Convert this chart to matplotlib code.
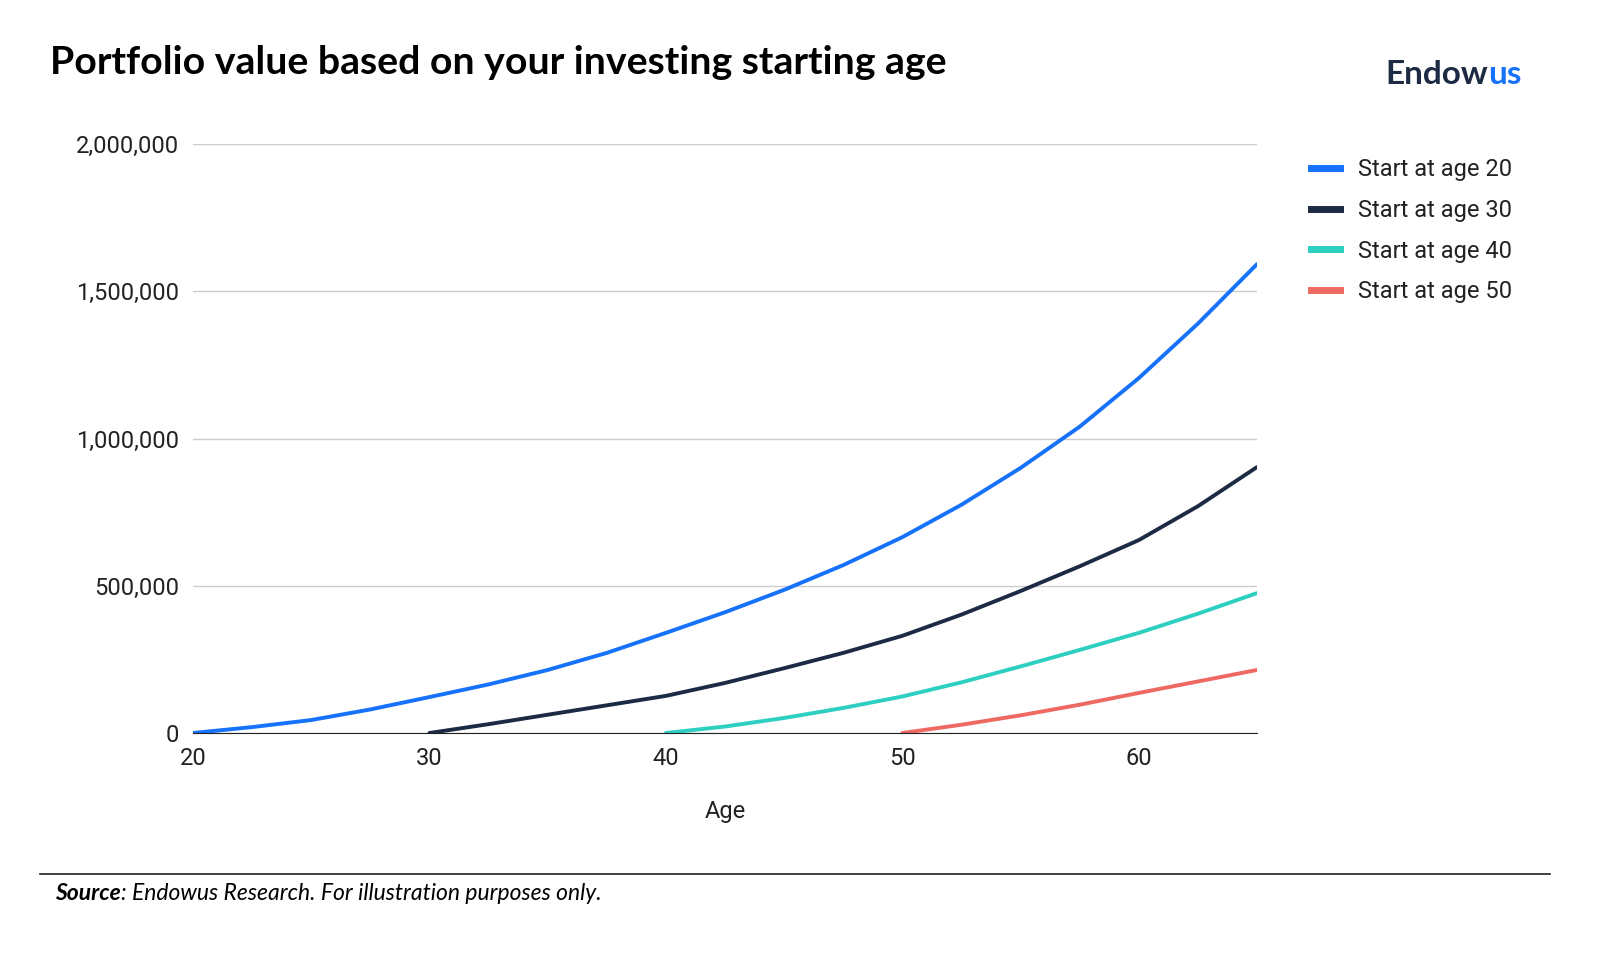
import matplotlib
matplotlib.use("Agg")
import matplotlib.pyplot as plt
from matplotlib.lines import Line2D

ages20 = [20, 22.5, 25, 27.5, 30, 32.5, 35, 37.5, 40, 42.5, 45, 47.5, 50, 52.5, 55, 57.5, 60, 62.5, 65]
vals20 = [0, 20000, 44000, 80000, 122000, 165000, 214000, 272000, 340000, 410000, 486000, 570000, 665000, 775000, 900000, 1040000, 1205000, 1390000, 1592000]
ages30 = [30, 32.5, 35, 37.5, 40, 42.5, 45, 47.5, 50, 52.5, 55, 57.5, 60, 62.5, 65]
vals30 = [0, 30000, 62000, 94000, 126000, 170000, 220000, 272000, 330000, 402000, 482000, 566000, 655000, 770000, 903000]
ages40 = [40, 42.5, 45, 47.5, 50, 52.5, 55, 57.5, 60, 62.5, 65]
vals40 = [0, 22000, 51000, 85000, 124000, 172000, 226000, 282000, 340000, 405000, 475000]
ages50 = [50, 52.5, 55, 57.5, 60, 62.5, 65]
vals50 = [0, 28000, 60000, 96000, 136000, 175000, 214000]
labels = ["Start at age 20", "Start at age 30", "Start at age 40", "Start at age 50"]
colors = ["#1672fa", "#1d2a44", "#2dcfc1", "#ee6961"]

plt.rcParams["font.family"] = "Roboto"
fig = plt.figure(figsize=(16, 9.56), dpi=100)
ax = fig.add_axes([193/1600, 1-733/956, (1257-193)/1600, (733-144)/956])
for a, v, c in zip([ages20, ages30, ages40, ages50], [vals20, vals30, vals40, vals50], colors):
    ax.plot(a, v, color=c, lw=2.8, solid_capstyle="round", solid_joinstyle="round")
ax.set_xlim(20, 65)
ax.set_ylim(0, 2000000)
ax.set_xticks([20, 30, 40, 50, 60])
ax.set_yticks([0, 500000, 1000000, 1500000, 2000000])
ax.set_yticklabels([f"{v:,}" for v in [0, 500000, 1000000, 1500000, 2000000]])
ax.grid(axis="y", color="#cccccc", lw=1)
ax.set_axisbelow(True)
for s in ["top", "right", "left"]:
    ax.spines[s].set_visible(False)
ax.spines["bottom"].set_color("#222222")
ax.tick_params(length=0, labelsize=17, colors="#222222", pad=10)
ax.set_xlabel("Age", fontsize=17, labelpad=22, color="#222222")
handles = [Line2D([], [], color=c, lw=5) for c in colors]
fig.legend(handles, labels, loc="upper left", bbox_to_anchor=(1290/1600, 1-137/956),
           frameon=False, fontsize=17, handlelength=1.2, labelspacing=0.75, labelcolor="#222222")
fig.text(50/1600, 1-63/956, "Portfolio value based on your investing starting age",
         fontsize=28.3, fontweight="bold", va="center", family="Lato")
fig.text(1488/1600, 1-74/956, "Endow", fontsize=24, fontweight="bold", color="#1d2a44",
         va="center", ha="right", family="Lato")
fig.text(1488/1600, 1-74/956, "us", fontsize=24, fontweight="bold", color="#1672fa",
         va="center", ha="left", family="Lato")
fig.add_artist(Line2D([40/1600, 1550/1600], [1-874/956]*2, color="#222222", lw=1.2))
fig.text(121/1600, 1-894/956, "Source", fontsize=16.5, fontstyle="italic", fontweight="bold",
         va="center", ha="right", family="Lato")
fig.text(121/1600, 1-894/956, ": Endowus Research. For illustration purposes only.", fontsize=16.5,
         fontstyle="italic", va="center", ha="left", family="Lato")
fig.savefig("out.png", dpi=100, facecolor="white")
